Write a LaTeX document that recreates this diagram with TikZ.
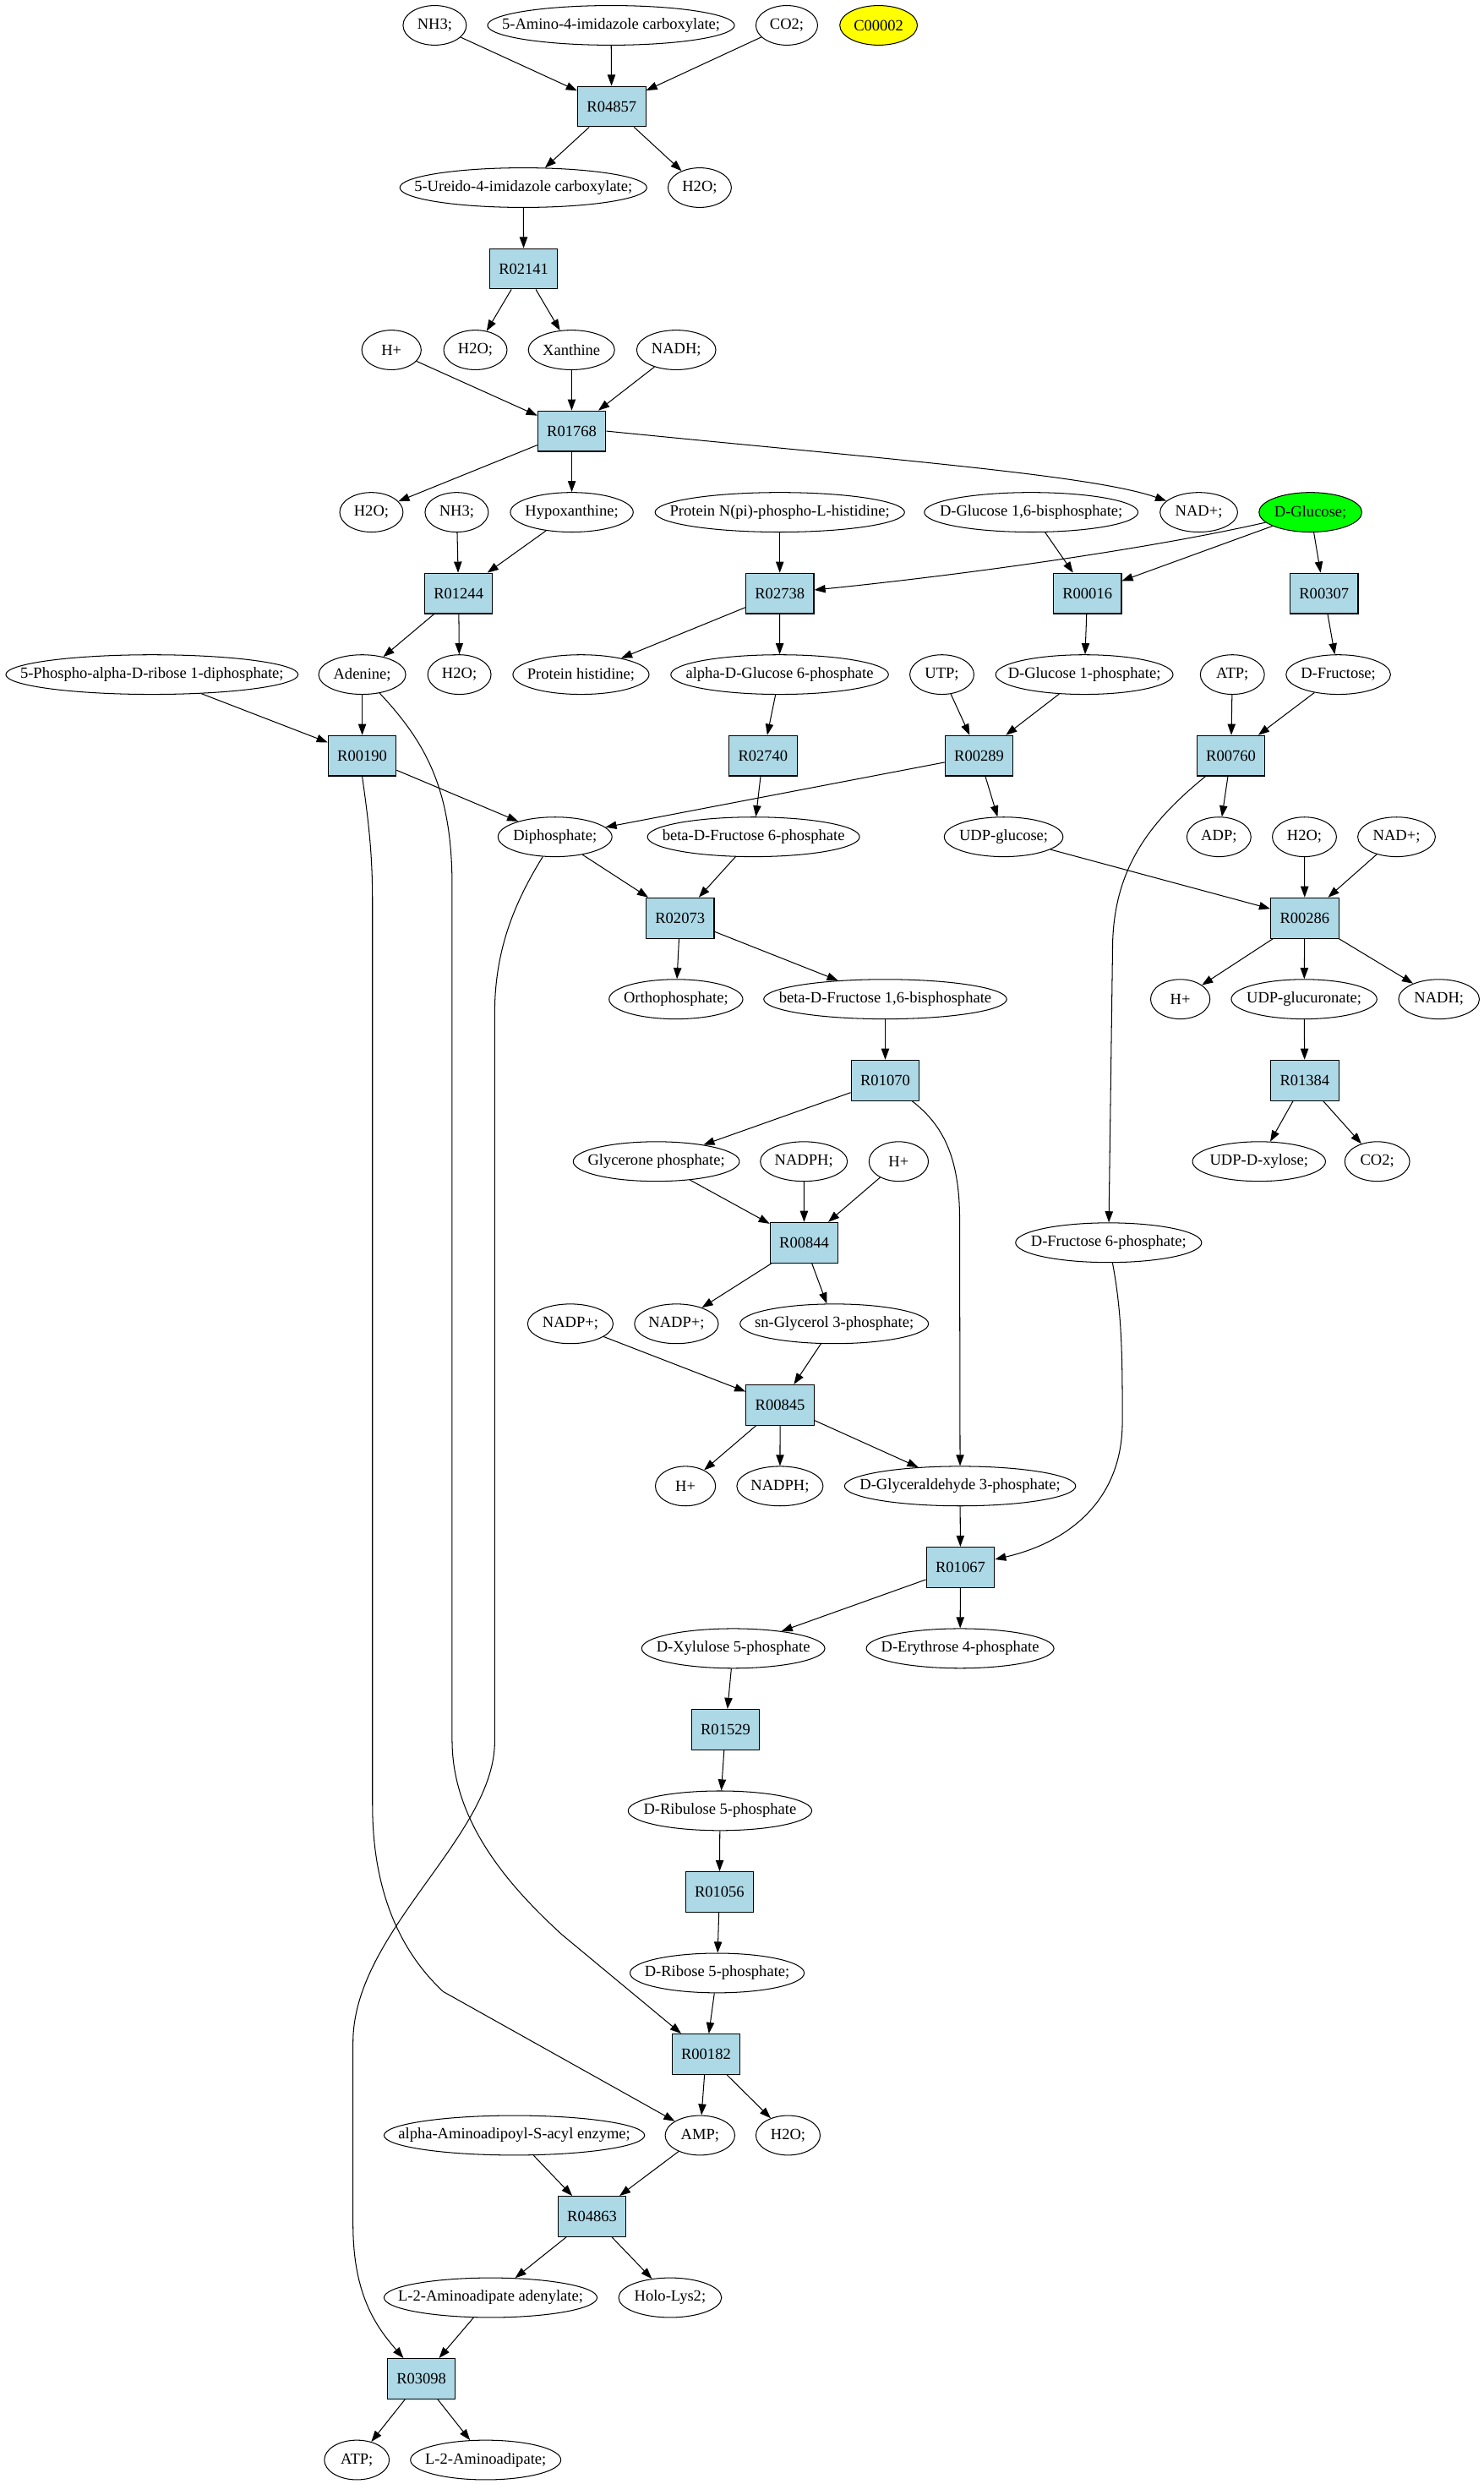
\documentclass[tikz,border=0pt]{standalone}
\usepackage{fontspec}
\setmainfont{Liberation Serif}
\usetikzlibrary{shapes.geometric,arrows.meta}
\definecolor{boxblue}{HTML}{ADD8E6}
\definecolor{ylw}{HTML}{FFFF00}
\definecolor{grn}{HTML}{00FF00}
\newcommand\zw[1]{\makebox[0pt]{#1}}
\begin{document}
\begin{tikzpicture}[x=1pt,y=-1pt,
  met/.style={ellipse,draw,line width=0.55pt,minimum width=#1,minimum height=25pt,inner sep=0pt,font=\fontsize{9.9}{11}\selectfont},
  rxn/.style={rectangle,draw,fill=boxblue,line width=0.6pt,minimum width=43pt,minimum height=25.5pt,inner sep=0pt,font=\fontsize{9.9}{11}\selectfont},
  arr/.style={-{Triangle[length=7pt,width=5pt]},line width=0.55pt}]
\useasboundingbox[fill=white] (0,0) rectangle (937,1569);
% k=0
\node[met=40pt] (nh3a) at (274.6,16) {\zw{NH3;}};
\node[met=156pt] (amino) at (386,16) {\zw{5-Amino-4-imidazole carboxylate;}};
\node[met=39pt] (co2a) at (497,16) {\zw{CO2;}};
\node[met=49pt,fill=ylw] (c2) at (555,16) {\zw{C00002}};
\node[rxn] (r04857) at (386.4,67.26) {R04857};
\node[met=156pt] (ureido) at (330.6,118.52) {\zw{5-Ureido-4-imidazole carboxylate;}};
\node[met=40pt] (h2oa) at (442,118.52) {\zw{H2O;}};
\node[rxn] (r02141) at (330.8,169.78) {R02141};
\node[met=37.5pt] (hpa) at (247.3,221.04) {\zw{H+}};
\node[met=40pt] (h2ob) at (300.3,221.04) {\zw{H2O;}};
\node[met=54.5pt] (xan) at (361,221.04) {\zw{Xanthine}};
\node[met=50pt] (nadh1) at (427.2,221.04) {\zw{NADH;}};
\node[rxn] (r01768) at (361.2,272.3) {R01768};
\node[met=40pt] (h2oc) at (234.6,323.56) {\zw{H2O;}};
\node[met=40pt] (nh3b) at (288.5,323.56) {\zw{NH3;}};
\node[met=77.6pt] (hypox) at (361.2,323.56) {\zw{Hypoxanthine;}};
\node[met=157.6pt] (pnp) at (492.6,323.56) {\zw{Protein N(pi)-phospho-L-histidine;}};
\node[met=135pt] (g16bp) at (651.4,323.56) {\zw{D-Glucose 1,6-bisphosphate;}};
\node[met=49pt] (nadp1) at (757.3,323.56) {\zw{NAD+;}};
\node[met=65pt,fill=grn] (dglc) at (827.8,323.56) {\zw{D-Glucose;}};
\node[rxn] (r01244) at (289.7,374.82) {R01244};
\node[rxn] (r02738) at (492.6,374.82) {R02738};
\node[rxn] (r00016) at (686.9,374.82) {R00016};
\node[rxn] (r00307) at (836.4,374.82) {R00307};
\node[met=184.6pt] (prpp) at (96,426.08) {\zw{5-Phospho-alpha-D-ribose 1-diphosphate;}};
\node[met=55pt] (aden) at (228.8,426.08) {\zw{Adenine;}};
\node[met=40pt] (h2od) at (290.2,426.08) {\zw{H2O;}};
\node[met=86pt] (phis) at (367,426.08) {\zw{Protein histidine;}};
\node[met=137.5pt] (ag6p) at (492.5,426.08) {\zw{alpha-D-Glucose 6-phosphate}};
\node[met=40.5pt] (utp) at (595,426.08) {\zw{UTP;}};
\node[met=112pt] (g1p) at (685,426.08) {\zw{D-Glucose 1-phosphate;}};
\node[met=40.5pt] (atp1) at (778.5,426.08) {\zw{ATP;}};
\node[met=66pt] (dfru) at (845.4,426.08) {\zw{D-Fructose;}};
\node[rxn] (r00190) at (228.8,477.34) {R00190};
\node[rxn] (r02740) at (482,477.34) {R02740};
\node[rxn] (r00289) at (618.5,477.34) {R00289};
\node[rxn] (r00760) at (777.6,477.34) {R00760};
\node[met=72pt] (diphos) at (350.6,528.6) {\zw{Diphosphate;}};
\node[met=134pt] (bf6p) at (476,528.6) {\zw{beta-D-Fructose 6-phosphate}};
\node[met=75pt] (udpg) at (634,528.6) {\zw{UDP-glucose;}};
\node[met=40.5pt] (adp) at (770,528.6) {\zw{ADP;}};
\node[met=40.5pt] (h2oe) at (824,528.6) {\zw{H2O;}};
\node[met=49pt] (nadp2) at (882.2,528.6) {\zw{NAD+;}};
\node[rxn] (r02073) at (429.6,579.86) {R02073};
\node[rxn] (r00286) at (824.2,579.86) {R00286};
\node[met=84.5pt] (ortho) at (427,631.12) {\zw{Orthophosphate;}};
\node[met=153.5pt] (bf16) at (559.2,631.12) {\zw{beta-D-Fructose 1,6-bisphosphate}};
\node[met=37.5pt] (hpb) at (745.6,631.12) {\zw{H+}};
\node[met=92pt] (udpgl) at (823.8,631.12) {\zw{UDP-glucuronate;}};
\node[met=51pt] (nadh2) at (909,631.12) {\zw{NADH;}};
\node[rxn] (r01070) at (559.2,682.38) {R01070};
\node[rxn] (r01384) at (824.2,682.38) {R01384};
\node[met=105pt] (glyc) at (414.6,733.64) {\zw{Glycerone phosphate;}};
\node[met=55pt] (nadph1) at (507.8,733.64) {\zw{NADPH;}};
\node[met=37.5pt] (hpc) at (567.7,733.64) {\zw{H+}};
\node[met=84pt] (udpx) at (795.3,733.64) {\zw{UDP-D-xylose;}};
\node[met=41pt] (co2b) at (870,733.64) {\zw{CO2;}};
\node[rxn] (r00844) at (508,784.9) {R00844};
\node[met=117.5pt] (f6p) at (700.3,784.9) {\zw{D-Fructose 6-phosphate;}};
\node[met=54pt] (nadpp1) at (360.3,836.16) {\zw{NADP+;}};
\node[met=53pt] (nadpp2) at (427.3,836.16) {\zw{NADP+;}};
\node[met=119pt] (sng3p) at (527,836.16) {\zw{sn-Glycerol 3-phosphate;}};
\node[rxn] (r00845) at (492.8,887.42) {R00845};
\node[met=38pt] (hpd) at (433,938.68) {\zw{H+}};
\node[met=54.5pt] (nadph2) at (492.7,938.68) {\zw{NADPH;}};
\node[met=146pt] (ga3p) at (606.5,938.68) {\zw{D-Glyceraldehyde 3-phosphate;}};
\node[rxn] (r01067) at (606.7,989.94) {R01067};
\node[met=115.7pt] (xu5p) at (463.2,1041.2) {\zw{D-Xylulose 5-phosphate}};
\node[met=118.5pt] (e4p) at (606.5,1041.2) {\zw{D-Erythrose 4-phosphate}};
\node[rxn] (r01529) at (458.3,1092.46) {R01529};
\node[met=116pt] (ru5p) at (454.8,1143.72) {\zw{D-Ribulose 5-phosphate}};
\node[rxn] (r01056) at (454.5,1194.98) {R01056};
\node[met=110pt] (r5p) at (453,1246.24) {\zw{D-Ribose 5-phosphate;}};
\node[rxn] (r00182) at (446,1297.5) {R00182};
\node[met=164.6pt] (aas) at (324.9,1348.76) {\zw{alpha-Aminoadipoyl-S-acyl enzyme;}};
\node[met=44pt] (amp) at (442.2,1348.76) {\zw{AMP;}};
\node[met=40.6pt] (h2of) at (497.8,1348.76) {\zw{H2O;}};
\node[rxn] (r04863) at (374,1400.02) {R04863};
\node[met=134.6pt] (l2aad) at (309.9,1451.28) {\zw{L-2-Aminoadipate adenylate;}};
\node[met=65pt] (holo) at (423.3,1451.28) {\zw{Holo-Lys2;}};
\node[rxn] (r03098) at (266.2,1502.54) {R03098};
\node[met=41pt] (atp2) at (225.4,1553.8) {\zw{ATP;}};
\node[met=95pt] (l2a) at (306.8,1553.8) {\zw{L-2-Aminoadipate;}};
% edges
\draw[arr] (nh3a) -- (r04857);
\draw[arr] (amino) -- (r04857);
\draw[arr] (co2a) -- (r04857);
\draw[arr] (r04857) -- (ureido);
\draw[arr] (r04857) -- (h2oa);
\draw[arr] (ureido) -- (r02141);
\draw[arr] (r02141) -- (h2ob);
\draw[arr] (r02141) -- (xan);
\draw[arr] (hpa) -- (r01768);
\draw[arr] (xan) -- (r01768);
\draw[arr] (nadh1) -- (r01768);
\draw[arr] (r01768) -- (h2oc);
\draw[arr] (r01768) -- (hypox);
\draw[arr] (r01768.east) .. controls (560,290) and (690,300) .. (nadp1);
\draw[arr] (nh3b) -- (r01244);
\draw[arr] (hypox) -- (r01244);
\draw[arr] (r01244) -- (aden);
\draw[arr] (r01244) -- (h2od);
\draw[arr] (pnp) -- (r02738);
\draw[arr] (dglc) .. controls (720,348) and (600,364) .. (r02738);
\draw[arr] (g16bp) -- (r00016);
\draw[arr] (dglc) -- (r00016);
\draw[arr] (dglc) -- (r00307);
\draw[arr] (r02738) -- (phis);
\draw[arr] (r02738) -- (ag6p);
\draw[arr] (r00016) -- (g1p);
\draw[arr] (r00307) -- (dfru);
\draw[arr] (prpp) -- (r00190);
\draw[arr] (aden) -- (r00190);
\draw[arr] (aden) .. controls (270,470) and (285.6,500) .. (285.6,560) -- (285.6,1100) .. controls (286,1150) and (320,1190) .. (355,1222) -- (r00182);
\draw[arr] (r00190) -- (diphos);
\draw[arr] (r00190.south) .. controls (233,520) and (235.3,540) .. (235.3,570) -- (235.3,1140) .. controls (235.3,1190) and (250,1230) .. (280,1258) -- (amp);
\draw[arr] (ag6p) -- (r02740);
\draw[arr] (r02740) -- (bf6p);
\draw[arr] (utp) -- (r00289);
\draw[arr] (g1p) -- (r00289);
\draw[arr] (r00289) -- (diphos);
\draw[arr] (r00289) -- (udpg);
\draw[arr] (atp1) -- (r00760);
\draw[arr] (dfru) -- (r00760);
\draw[arr] (r00760) -- (adp);
\draw[arr] (r00760) .. controls (725,520) and (702.8,550) .. (702.8,600) -- (f6p);
\draw[arr] (diphos) -- (r02073);
\draw[arr] (bf6p) -- (r02073);
\draw[arr] (diphos) .. controls (325,570) and (312.5,600) .. (312.5,640) -- (312.5,1100) .. controls (312.5,1160) and (223,1220) .. (223,1290) -- (223,1405) .. controls (223,1450) and (238,1470) .. (r03098);
\draw[arr] (udpg) -- (r00286);
\draw[arr] (h2oe) -- (r00286);
\draw[arr] (nadp2) -- (r00286);
\draw[arr] (r02073) -- (ortho);
\draw[arr] (r02073) -- (bf16);
\draw[arr] (r00286) -- (hpb);
\draw[arr] (r00286) -- (udpgl);
\draw[arr] (r00286) -- (nadh2);
\draw[arr] (bf16) -- (r01070);
\draw[arr] (udpgl) -- (r01384);
\draw[arr] (r01384) -- (udpx);
\draw[arr] (r01384) -- (co2b);
\draw[arr] (r01070) -- (glyc);
\draw[arr] (r01070) .. controls (595,710) and (606.2,730) .. (606.2,770) -- (ga3p);
\draw[arr] (glyc) -- (r00844);
\draw[arr] (nadph1) -- (r00844);
\draw[arr] (hpc) -- (r00844);
\draw[arr] (r00844) -- (nadpp2);
\draw[arr] (r00844) -- (sng3p);
\draw[arr] (nadpp1) -- (r00845);
\draw[arr] (sng3p) -- (r00845);
\draw[arr] (r00845) -- (hpd);
\draw[arr] (r00845) -- (nadph2);
\draw[arr] (r00845) -- (ga3p);
\draw[arr] (ga3p) -- (r01067);
\draw[arr] (f6p) .. controls (709,830) and (709,860) .. (709,898) .. controls (709,950) and (672,975) .. (r01067);
\draw[arr] (r01067) -- (xu5p);
\draw[arr] (r01067) -- (e4p);
\draw[arr] (xu5p) -- (r01529);
\draw[arr] (r01529) -- (ru5p);
\draw[arr] (ru5p) -- (r01056);
\draw[arr] (r01056) -- (r5p);
\draw[arr] (r5p) -- (r00182);
\draw[arr] (r00182) -- (amp);
\draw[arr] (r00182) -- (h2of);
\draw[arr] (aas) -- (r04863);
\draw[arr] (amp) -- (r04863);
\draw[arr] (r04863) -- (l2aad);
\draw[arr] (r04863) -- (holo);
\draw[arr] (l2aad) -- (r03098);
\draw[arr] (r03098) -- (atp2);
\draw[arr] (r03098) -- (l2a);
\end{tikzpicture}
\end{document}
